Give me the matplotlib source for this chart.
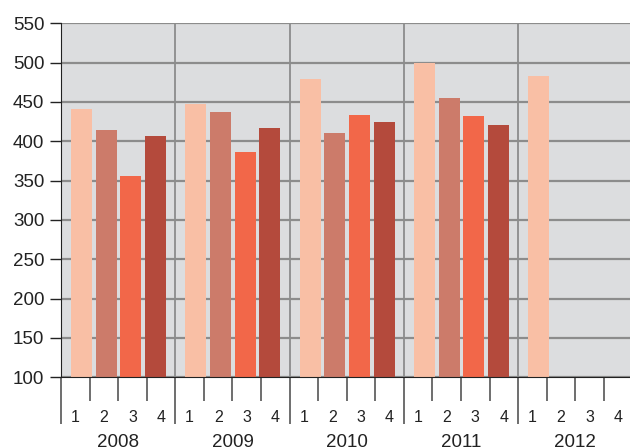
import numpy as np
import matplotlib.pyplot as plt
from matplotlib import transforms

'''data'''
years = ['2008', '2009', '2010', '2011', '2012']
quarters = ['1', '2', '3', '4']
q1 = [441, 448, 479, 499, 483]
q2 = [414, 437, 411, 455]
q3 = [356, 386, 433, 432]
q4 = [407, 417, 424, 421]

colors = ['#f9bfa5', '#cc7b6a', '#f26749', '#b44a3c']
plt.rcParams['font.family'] = ['Liberation Sans', 'DejaVu Sans']

fig = plt.figure(figsize=(6.3, 4.48), dpi=100)
ax = fig.add_axes([61 / 630, 70.7 / 448, 569 / 630, 354 / 448])
ax.set_facecolor('#dcdddf')

'''bars'''
offsets = [0.179 + 0.216 * k for k in range(4)]
for k, series in enumerate([q1, q2, q3, q4]):
    x = np.arange(len(series)) + offsets[k]
    ax.bar(x, np.array(series) - 100, bottom=100, width=0.184,
           color=colors[k], zorder=3)

ax.set_ylim(100, 550)
ax.set_xlim(0, 569 / 114.3)
ax.set_yticks(range(100, 551, 50))
ax.yaxis.grid(True, color='#8c8c8c', linewidth=1.6, zorder=1)
ax.set_axisbelow(True)
for i in range(1, len(years)):
    ax.axvline(i, color='#8c8c8c', linewidth=1.3, zorder=2)

for s in ['top', 'right']:
    ax.spines[s].set_visible(False)
ax.spines['left'].set_color('#222222')
ax.spines['bottom'].set_color('#222222')
ax.spines['bottom'].set_zorder(5)

ax.tick_params(axis='y', length=8, width=1, color='#222222', pad=4,
               labelsize=13.5, labelcolor='#222222')

'''x ticks: year separators and quarter ticks'''
ax.set_xticks(range(len(years)))
ax.set_xticklabels([])
ax.set_xticks([y + q for y in range(len(years)) for q in (0.25, 0.5, 0.75)],
              minor=True)
ax.tick_params(axis='x', which='major', length=34, width=1.2, color='#555555')
ax.tick_params(axis='x', which='minor', length=17.5, width=1.2, color='#555555')

trans = transforms.blended_transform_factory(ax.transData, fig.transFigure)
for i, yr in enumerate(years):
    for j, q in enumerate(quarters):
        ax.text(i + 0.125 + 0.25 * j, 1 - 417 / 448, q, transform=trans,
                ha='center', va='center', fontsize=11.5, color='#222222')
    ax.text(i + 0.5, 1 - 442 / 448, yr, transform=trans,
            ha='center', va='center', fontsize=13.5, color='#222222')

plt.savefig('out.png', dpi=100)
